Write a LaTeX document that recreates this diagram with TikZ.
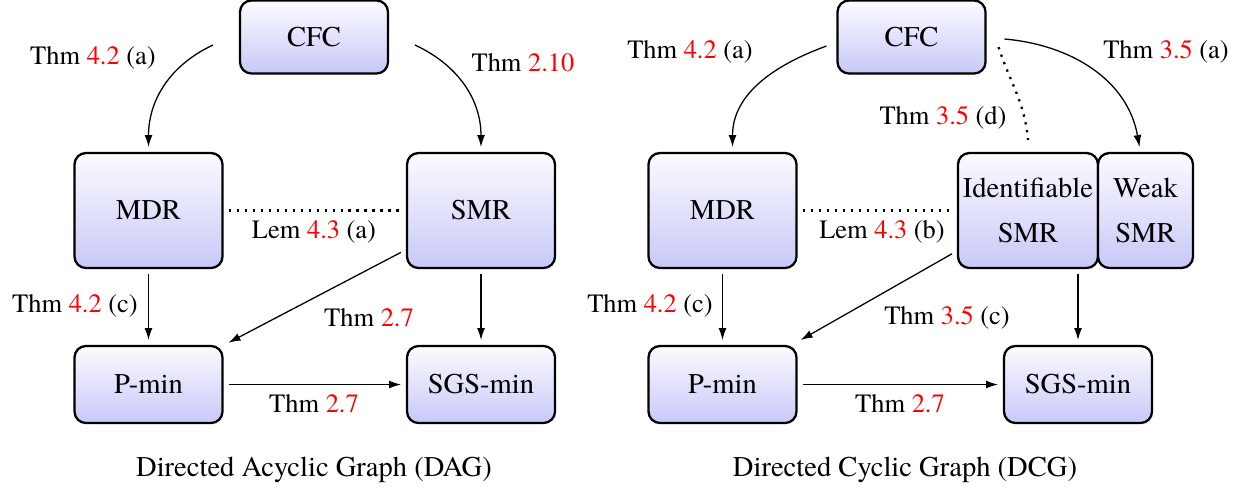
\documentclass[tikz,border=0pt]{standalone}
\usepackage{fontspec}
\setmainfont{texgyretermes}[Extension=.otf,UprightFont=*-regular,BoldFont=*-bold,ItalicFont=*-italic,BoldItalicFont=*-bolditalic]
\usetikzlibrary{arrows.meta,positioning,calc}
\definecolor{refRed}{HTML}{FF0000}
\definecolor{boxTop}{HTML}{FBFBFF}
\definecolor{boxBot}{HTML}{C8C8F8}
\newcommand{\refnum}[1]{\textcolor{refRed}{#1}}

\begin{document}
\begin{tikzpicture}[x=0.35pt,y=-0.35pt,
    box/.style={draw,thick,rounded corners=4pt,top color=boxTop,bottom color=boxBot,
      outer sep=2.1pt,inner sep=1pt,align=center,font=\rmfamily\fontsize{10}{15.75}\selectfont,
      minimum width=51.8pt},
    tall/.style={box,minimum height=40.25pt},
    flat/.style={box,minimum height=26.95pt},
    lbl/.style={font=\rmfamily\fontsize{9.25}{11}\selectfont,inner sep=0pt},
    arr/.style={-{Latex[length=4.2pt,width=2.8pt]},line width=0.45pt},
    dots/.style={dotted,line width=0.8pt}]
  \useasboundingbox (0,0) rectangle (1245,494);

  % left: acyclic case
  \node[box,minimum height=25.55pt] (cfcL) at (314,37) {CFC};
  \node[tall] (mdrL) at (148.5,210.5) {MDR};
  \node[tall] (smrL) at ($(mdrL)+(332.5,0)$) {SMR};
  \node[flat] (pminL) at ($(mdrL)+(0,174)$) {P-min};
  \node[flat] (sgsL) at ($(smrL)+(0,174)$) {SGS-min};
  \node[font=\rmfamily\fontsize{10}{12}\selectfont] (capL) at (314,470) {Directed Acyclic Graph (DAG)};

  \node[lbl] (l1) at (93,58) {Thm \refnum{4.2} (a)};
  \node[lbl] (l2) at (523,63) {Thm \refnum{2.10}};
  \node[lbl] (l3) at (314,232) {Lem \refnum{4.3} (a)};
  \node[lbl] (l4) at (75,306) {Thm \refnum{4.2} (c)};
  \node[lbl] (l5) at (369,318) {Thm \refnum{2.7}};
  \node[lbl] (l6) at (314,404) {Thm \refnum{2.7}};

  \draw[arr] ([xshift=-7.35pt,yshift=-2.8pt]cfcL.west) to[out=205,in=90] (mdrL);
  \draw[arr] ([xshift=7.35pt,yshift=-2.8pt]cfcL.east) to[out=-25,in=90] (smrL);
  \draw[dots] (mdrL) -- (smrL);
  \draw[arr] (mdrL) -- (pminL);
  \draw[arr] (smrL) -- (pminL);
  \draw[arr] (smrL) -- (sgsL);
  \draw[arr] (pminL) -- (sgsL);

  % right: cyclic case
  \node[box,minimum height=25.55pt] (cfcR) at (911.5,37) {CFC};
  \node[tall] (mdrR) at (722.5,210.5) {MDR};
  \node[tall,minimum width=49pt] (idsmr) at (1028,210.5) {Identifiable\\SMR};
  \node[tall,minimum width=33.25pt] (weak) at (1145.5,210.5) {Weak\\SMR};
  \node[flat] (pminR) at ($(mdrR)+(0,174)$) {P-min};
  \node[flat] (sgsR) at (1078,384.5) {SGS-min};
  \node[font=\rmfamily\fontsize{10}{12}\selectfont] (capR) at (905,470) {Directed Cyclic Graph (DCG)};

  \node[lbl] (r1) at (690,52) {Thm \refnum{4.2} (a)};
  \node[lbl] (r2) at (1166,52) {Thm \refnum{3.5} (a)};
  \node[lbl] (r3) at (943,118) {Thm \refnum{3.5} (d)};
  \node[lbl] (r4) at (882,232) {Lem \refnum{4.3} (b)};
  \node[lbl] (r5) at (650,306) {Thm \refnum{4.2} (c)};
  \node[lbl] (r6) at (947,318) {Thm \refnum{3.5} (c)};
  \node[lbl] (r7) at (900,404) {Thm \refnum{2.7}};

  \draw[arr] ([xshift=-1.75pt,yshift=-3.15pt]cfcR.west) to[out=200,in=90] ([xshift=3.5pt]mdrR.north);
  \draw[arr] ([xshift=4.55pt,yshift=-0.7pt]cfcR.east) to[out=-5,in=100] ([xshift=-2.1pt]weak.north);
  \draw[dots] ([xshift=2.45pt,yshift=-3.5pt]cfcR.east) to[out=-72,in=95] ([yshift=2.45pt]idsmr.north);
  \draw[dots] (mdrR) -- (idsmr);
  \draw[arr] (mdrR) -- (pminR);
  \draw[arr] (idsmr) -- (pminR);
  \draw[arr] (idsmr.south -| sgsR) -- (sgsR);
  \draw[arr] (pminR) -- (sgsR);
\end{tikzpicture}
\end{document}
